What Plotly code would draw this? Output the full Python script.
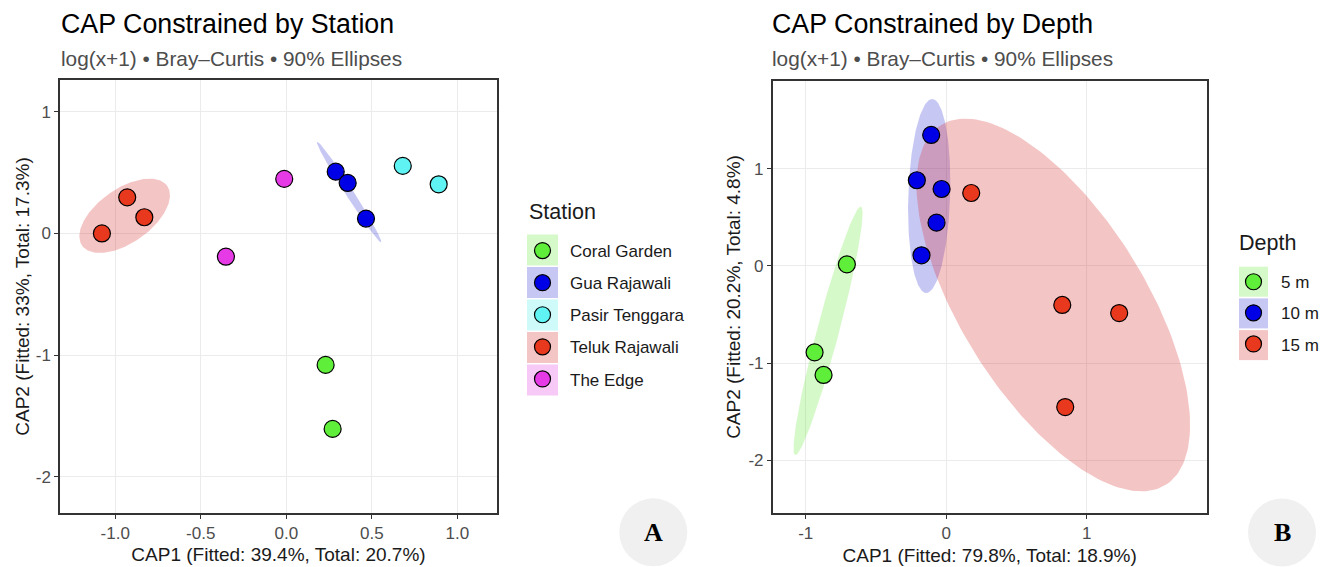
import numpy as np
import plotly.graph_objects as go

# ---------------- Panel A: CAP constrained by Station ----------------
station_labels = ["Coral Garden", "Gua Rajawali", "Pasir Tenggara", "Teluk Rajawali", "The Edge"]
coral_garden_cap1 = [0.230, 0.271]
coral_garden_cap2 = [-1.080, -1.606]
gua_rajawali_cap1 = [0.289, 0.359, 0.466]
gua_rajawali_cap2 = [0.508, 0.415, 0.122]
pasir_tenggara_cap1 = [0.681, 0.891]
pasir_tenggara_cap2 = [0.555, 0.404]
teluk_rajawali_cap1 = [-1.078, -0.930, -0.830]
teluk_rajawali_cap2 = [0.000, 0.297, 0.133]
the_edge_cap1 = [-0.012, -0.353]
the_edge_cap2 = [0.448, -0.191]

# 90% ellipses: [centre CAP1, centre CAP2, semi-axis dCAP1, dCAP2, conjugate semi-axis dCAP1, dCAP2]
gua_rajawali_ellipse = [0.367, 0.341, 0.187, -0.413, 0.0198, 0.0177]
teluk_rajawali_ellipse = [-0.945, 0.145, 0.249, 0.245, 0.0906, -0.182]

# ---------------- Panel B: CAP constrained by Depth ----------------
depth_labels = ["5 m", "10 m", "15 m"]
depth5_cap1 = [-0.707, -0.937, -0.873]
depth5_cap2 = [0.017, -0.888, -1.121]
depth10_cap1 = [-0.107, -0.209, -0.033, -0.069, -0.176]
depth10_cap2 = [1.348, 0.882, 0.792, 0.446, 0.110]
depth15_cap1 = [0.178, 0.826, 1.231, 0.847]
depth15_cap2 = [0.751, -0.401, -0.484, -1.451]

depth5_ellipse = [-0.841, -0.667, 0.2337, 1.278, 0.0757, -0.0288]
depth10_ellipse = [-0.121, 0.720, 0.021, 0.998, 0.149, 0.0]
depth15_ellipse = [0.762, -0.401, 0.800, -1.850, -0.555, -0.502]

# axis tick labels
a_xticks = [-1.0, -0.5, 0.0, 0.5, 1.0]
a_xticklabels = ["-1.0", "-0.5", "0.0", "0.5", "1.0"]
a_yticks = [-2, -1, 0, 1]
a_yticklabels = ["-2", "-1", "0", "1"]
b_xticks = [-1, 0, 1]
b_xticklabels = ["-1", "0", "1"]
b_yticks = [-2, -1, 0, 1]
b_yticklabels = ["-2", "-1", "0", "1"]

# ---------------- styles ----------------
GREEN = "#5FEE3A"
BLUE = "#0000E6"
CYAN = "#5FF3F3"
RED = "#E8381E"
MAGENTA = "#E63AE6"
FILL = {
    GREEN: "rgba(90,230,40,0.25)",
    BLUE: "rgba(30,30,210,0.25)",
    CYAN: "rgba(60,235,235,0.25)",
    RED: "rgba(215,40,40,0.27)",
    MAGENTA: "rgba(220,40,220,0.25)",
}
FONT = "Liberation Sans, Arial, sans-serif"
W, H = 1333, 567


def px(x):
    return x / W


def py(y):
    return 1 - y / H


def ellipse_xy(p, n=200):
    t = np.linspace(0, 2 * np.pi, n)
    cx, cy, ux, uy, vx, vy = p
    return cx + ux * np.cos(t) + vx * np.sin(t), cy + uy * np.cos(t) + vy * np.sin(t)


fig = go.Figure()


def add_ellipse(p, color, xa, ya, group):
    ex, ey = ellipse_xy(p)
    fig.add_trace(go.Scatter(x=ex, y=ey, mode="lines", fill="toself",
                             fillcolor=FILL[color], line=dict(width=0, color=FILL[color]),
                             hoverinfo="skip", showlegend=False, legendgroup=group,
                             xaxis=xa, yaxis=ya))


def add_points(xs, ys, name, color, xa, ya, legend, group):
    fig.add_trace(go.Scatter(x=xs, y=ys, mode="markers", name=name,
                             marker=dict(size=17, color=color, line=dict(color="black", width=1.2)),
                             xaxis=xa, yaxis=ya, legend=legend, legendgroup=group))


# Panel A
add_ellipse(gua_rajawali_ellipse, BLUE, "x", "y", "a1")
add_ellipse(teluk_rajawali_ellipse, RED, "x", "y", "a3")
a_series = [
    (coral_garden_cap1, coral_garden_cap2, GREEN),
    (gua_rajawali_cap1, gua_rajawali_cap2, BLUE),
    (pasir_tenggara_cap1, pasir_tenggara_cap2, CYAN),
    (teluk_rajawali_cap1, teluk_rajawali_cap2, RED),
    (the_edge_cap1, the_edge_cap2, MAGENTA),
]
for i, (xs, ys, c) in enumerate(a_series):
    add_points(xs, ys, station_labels[i], c, "x", "y", "legend", "a%d" % i)

# Panel B
add_ellipse(depth5_ellipse, GREEN, "x2", "y2", "b0")
add_ellipse(depth10_ellipse, BLUE, "x2", "y2", "b1")
add_ellipse(depth15_ellipse, RED, "x2", "y2", "b2")
b_series = [
    (depth5_cap1, depth5_cap2, GREEN),
    (depth10_cap1, depth10_cap2, BLUE),
    (depth15_cap1, depth15_cap2, RED),
]
for i, (xs, ys, c) in enumerate(b_series):
    add_points(xs, ys, depth_labels[i], c, "x2", "y2", "legend2", "b%d" % i)

axis_common = dict(
    showline=True, mirror=True, linecolor="#333333", linewidth=1.5,
    showgrid=True, gridcolor="#EBEBEB", gridwidth=1, zeroline=False,
    ticks="outside", ticklen=4, tickcolor="#333333", tickwidth=1,
    tickfont=dict(family=FONT, size=17, color="#4D4D4D"),
    tickmode="array",
)
title_font = dict(family=FONT, size=19, color="#1A1A1A")

fig.update_layout(
    width=W, height=H,
    margin=dict(l=0, r=0, t=0, b=0),
    paper_bgcolor="white", plot_bgcolor="white",
    font=dict(family=FONT, color="#1A1A1A"),
    xaxis=dict(axis_common, domain=[px(60), px(497)], range=[-1.323, 1.232],
               tickvals=a_xticks, ticktext=a_xticklabels, anchor="y",
               title=dict(text="CAP1 (Fitted: 39.4%, Total: 20.7%)", font=title_font, standoff=6)),
    yaxis=dict(axis_common, domain=[py(513), py(80)], range=[-2.297, 1.261],
               tickvals=a_yticks, ticktext=a_yticklabels, anchor="x",
               title=dict(text="CAP2 (Fitted: 33%, Total: 17.3%)", font=title_font, standoff=1)),
    xaxis2=dict(axis_common, domain=[px(772.7), px(1206.7)], range=[-1.235, 1.854],
                tickvals=b_xticks, ticktext=b_xticklabels, anchor="y2",
                title=dict(text="CAP1 (Fitted: 79.8%, Total: 18.9%)", font=title_font, standoff=6)),
    yaxis2=dict(axis_common, domain=[py(513.3), py(80.7)], range=[-2.544, 1.906],
                tickvals=b_yticks, ticktext=b_yticklabels, anchor="x2",
                title=dict(text="CAP2 (Fitted: 20.2%, Total: 4.8%)", font=title_font, standoff=3)),
    legend=dict(x=px(515), y=py(233), xanchor="left", yanchor="top",
                bgcolor="rgba(0,0,0,0)", itemwidth=45, traceorder="grouped", tracegroupgap=7,
                font=dict(family=FONT, size=17, color="#1A1A1A")),
    legend2=dict(x=px(1226), y=py(264.2), xanchor="left", yanchor="top",
                 bgcolor="rgba(0,0,0,0)", itemwidth=45, traceorder="grouped", tracegroupgap=6,
                 font=dict(family=FONT, size=17, color="#1A1A1A")),
)

# panel titles and subtitles
for x0, title in [(58.5, "CAP Constrained by Station"), (770.5, "CAP Constrained by Depth")]:
    fig.add_annotation(text=title, xref="paper", yref="paper", x=px(x0), y=py(24),
                       xanchor="left", yanchor="middle", showarrow=False,
                       font=dict(family=FONT, size=26.8, color="black"))
    fig.add_annotation(text="log(x+1) • Bray–Curtis • 90% Ellipses", xref="paper", yref="paper",
                       x=px(x0), y=py(58), xanchor="left", yanchor="middle", showarrow=False,
                       font=dict(family=FONT, size=20.8, color="#4D4D4D"))

# legend titles
for x0, y0, ttl in [(526.5, 212, "Station"), (1236.5, 243, "Depth")]:
    fig.add_annotation(text=ttl, xref="paper", yref="paper", x=px(x0), y=py(y0),
                       xanchor="left", yanchor="middle", showarrow=False,
                       font=dict(family=FONT, size=21.5, color="#1A1A1A"))

# legend key backgrounds
shapes = []
for i, c in enumerate([GREEN, BLUE, CYAN, RED, MAGENTA]):
    cy = 250 + 32.5 * i
    shapes.append(dict(type="rect", xref="paper", yref="paper", layer="below",
                       x0=px(527), x1=px(558), y0=py(cy - 15.5), y1=py(cy + 15.5),
                       fillcolor=FILL[c], line=dict(width=0)))
for i, c in enumerate([GREEN, BLUE, RED]):
    cy = 281.7 + 31.7 * i
    shapes.append(dict(type="rect", xref="paper", yref="paper", layer="below",
                       x0=px(1239), x1=px(1268), y0=py(cy - 15), y1=py(cy + 15),
                       fillcolor=FILL[c], line=dict(width=0)))
# panel badges
for cx, cy, letter in [(653.3, 532.3, "A"), (1282, 532.5, "B")]:
    shapes.append(dict(type="circle", xref="paper", yref="paper", layer="below",
                       x0=px(cx - 34), x1=px(cx + 34), y0=py(cy + 34), y1=py(cy - 34),
                       fillcolor="#F0F0F0", line=dict(width=0)))
    fig.add_annotation(text="<b>%s</b>" % letter, xref="paper", yref="paper", x=px(cx), y=py(cy),
                       xanchor="center", yanchor="middle", showarrow=False,
                       font=dict(family="Liberation Serif, Times New Roman, serif", size=26, color="black"))
fig.update_layout(shapes=shapes)

fig.write_html("out.html")
